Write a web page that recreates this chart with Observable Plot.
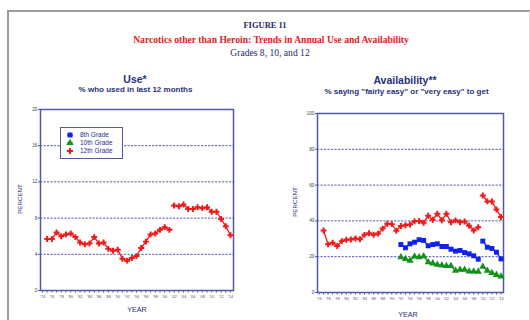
<!DOCTYPE html>
<html><head><meta charset="utf-8">
<script src="https://cdn.jsdelivr.net/npm/d3@7"></script>
<script src="https://cdn.jsdelivr.net/npm/@observablehq/plot@0.6"></script>
<style>
body{margin:0;background:#fff;}
#wrap{position:relative;width:530px;height:320px;overflow:hidden;font-family:"Liberation Sans",Arial,sans-serif;background:#fff;}
.t{position:absolute;white-space:nowrap;transform:translate(-50%,-50%);line-height:1;}
.serif{font-family:"Liberation Serif","Times New Roman",serif;}
.plot{position:absolute;}
</style></head><body><div id="wrap"></div>
<script>
// ---- data ----
const useYears = [1975,1976,1977,1978,1979,1980,1981,1982,1983,1984,1985,1986,1987,1988,1989,1990,1991,1992,1993,1994,1995,1996,1997,1998,1999,2000,2001,2002,2003,2004,2005,2006,2007,2008,2009,2010,2011,2012,2013,2014];
const use12 = [5.7,5.7,6.4,6.0,6.2,6.3,5.9,5.3,5.1,5.2, 5.9,5.2,5.3,4.6,4.4,4.5,3.5,3.3,3.6,3.8, 4.7,5.4,6.2,6.3,6.7,7.0,6.7,9.4,9.3,9.5, 9.0,9.0,9.2,9.1,9.2,8.7,8.7,7.9,7.1,6.1];
const useBreak = 2002;
const availYears12 = useYears;
const avail12 = [34.6,26.9,27.8,26.0,28.7,29.5,29.6,30.2,29.8,32.2, 33.1,32.3,32.9,35.7,38.4,38.2,34.5,37.2,37.6,38.0, 39.8,39.9,39.0,42.9,40.6,44.0,40.4,44.0,39.2,40.3, 39.2,39.7,37.3,34.6,36.4,54.2,50.9,50.8,46.4,42.2];
const availYears810 = [1992,1993,1994,1995,1996,1997,1998,1999,2000,2001,2002,2003,2004,2005,2006,2007,2008,2009,2010,2011,2012,2013,2014];
const avail8 = [26.8,25.0,27.2,28.1,29.5,29.1,26.1,26.8,27.2,25.7,25.7,24.2,23.1,23.5,22.3,21.6,20.5,18.6, 28.7,25.3,24.6,22.5,18.8];
const avail10 = [19.7,18.8,17.8,20.1,19.7,20.3,16.9,16.3,15.6,15.2,14.8,14.8,12.2,12.8,12.8,11.8,11.8,11.6, 14.4,12.2,10.9,9.9,9.0];
const availBreak = 2010;
const grades = ["8th Grade","10th Grade","12th Grade"];
const axisYears = [1974,1975,1976,1977,1978,1979,1980,1981,1982,1983,1984,1985,1986,1987,1988,1989,1990,1991,1992,1993,1994,1995,1996,1997,1998,1999,2000,2001,2002,2003,2004,2005,2006,2007,2008,2009,2010,2011,2012,2013,2014];
const labelYears = [1974,1976,1978,1980,1982,1984,1986,1988,1990,1992,1994,1996,1998,2000,2002,2004,2006,2008,2010,2012,2014];
const useTicks = [0,4,8,12,16,20];
const availTicks = [0,20,40,60,80,100];

// ---- styles ----
const NAVY = "#27307a";
const FRAME = "#5257a6";
const RED = "#f01818", BLUE = "#1022f2", GREEN = "#14921c";
const styleOf = {"8th Grade":{c:BLUE,s:"square",r:2.8},"10th Grade":{c:GREEN,s:"triangle",r:2.7},"12th Grade":{c:RED,s:"cross",r:2.5}};

const wrap = document.getElementById("wrap");
function addText(html, x, y, css, cls="t"){
  const d = document.createElement("div");
  d.className = cls; d.innerHTML = html;
  d.style.left = x+"px"; d.style.top = y+"px";
  Object.assign(d.style, css);
  wrap.appendChild(d); return d;
}
// outer border
const b = document.createElement("div");
Object.assign(b.style,{position:"absolute",left:"7px",top:"10px",width:"520px",height:"330px",borderLeft:"2px solid #9c9c9c",borderTop:"2px solid #9c9c9c",borderRight:"1px solid #dcdcdc"});
wrap.appendChild(b);

addText("FIGURE 11",265,25,{fontSize:"8.5px",fontWeight:"bold",color:"#1f2a6b"},"t serif");
addText("Narcotics other than Heroin: Trends in Annual Use and Availability",271,40,{fontSize:"9.6px",fontWeight:"bold",color:"#e3201c"},"t serif");
addText("Grades 8, 10, and 12",270,53,{fontSize:"9.6px",color:"#1f2a6b"},"t serif");

addText("Use*",135,79,{fontSize:"10.5px",fontWeight:"bold",color:NAVY});
addText("% who used in last 12 months",135.5,90,{fontSize:"8px",fontWeight:"bold",color:NAVY});
addText("Availability**",405,80,{fontSize:"10.5px",fontWeight:"bold",color:NAVY});
addText("% saying \"fairly easy\" or \"very easy\" to get",406.5,92,{fontSize:"8px",fontWeight:"bold",color:NAVY});

addText("PERCENT",20,199,{fontSize:"6.2px",color:NAVY,transform:"translate(-50%,-50%) rotate(-90deg)"});
addText("PERCENT",295,202,{fontSize:"6.2px",color:NAVY,transform:"translate(-50%,-50%) rotate(-90deg)"});
addText("YEAR",137,310,{fontSize:"7.2px",color:NAVY});
addText("YEAR",408,315,{fontSize:"7.2px",color:NAVY});

function rows(years, vals, grade, brk){
  return years.map((y,i)=>({year:y, v:vals[i], grade, seg: y>=brk ? 1 : 0}));
}

function panel({series, yDomain, yTicks, left, top, width, height, ml, mr, mt, mb, insetL, insetR}){
  const marks = [
    Plot.gridY(yTicks.slice(1,-1), {stroke:FRAME, strokeOpacity:1, strokeWidth:1, strokeDasharray:"2.2,1.3"}),
    Plot.frame({stroke:FRAME, strokeWidth:1.5}),
    Plot.axisY(yTicks, {tickSize:2, tickPadding:1, fontSize:4.8, stroke:FRAME, fill:"#444", label:null}),
    Plot.axisX(axisYears, {tickSize:2.5, tickFormat:()=>"", stroke:FRAME, strokeWidth:1, label:null}),
    Plot.axisX(labelYears, {tickSize:0, tickPadding:5, fontSize:4, fill:"#555", tickFormat:d=>"'"+String(d).slice(2), label:null})
  ];
  for (const s of series){
    const st = styleOf[s[0].grade];
    marks.push(Plot.line(s, {x:"year", y:"v", z:"seg", stroke:st.c, strokeWidth:1.3}));
    marks.push(Plot.dot(s, {x:"year", y:"v", symbol:()=>st.s, fill:st.c, stroke:"none", r:st.r}));
  }
  const svg = Plot.plot({
    width, height, marginLeft:ml, marginRight:mr, marginTop:mt, marginBottom:mb,
    x:{domain:[1974,2014], insetLeft:insetL, insetRight:insetR},
    y:{domain:yDomain},
    symbol:{type:"identity"},
    style:{fontFamily:"Liberation Sans, Arial, sans-serif", color:NAVY, background:"transparent", overflow:"visible"},
    marks
  });
  svg.classList.add("plot");
  svg.style.left = left+"px"; svg.style.top = top+"px";
  wrap.appendChild(svg);
}

panel({series:[rows(useYears,use12,"12th Grade",useBreak)], yDomain:[0,20], yTicks:useTicks,
  left:0, top:100, width:265, height:220, ml:40, mr:32, mt:9, mb:30, insetL:2, insetR:3});
panel({series:[rows(availYears12,avail12,"12th Grade",availBreak), rows(availYears810,avail8,"8th Grade",availBreak), rows(availYears810,avail10,"10th Grade",availBreak)],
  yDomain:[0,100], yTicks:availTicks,
  left:265, top:100, width:265, height:220, ml:52, mr:27, mt:13, mb:28, insetL:1.5, insetR:2.5});

// legend
const lg = document.createElement("div");
Object.assign(lg.style,{position:"absolute",left:"60px",top:"127px",width:"61px",height:"30px",border:"1px solid "+FRAME,background:"#fff"});
wrap.appendChild(lg);
grades.forEach((g,i)=>{
  const st = styleOf[g];
  const sym = {square:d3.symbolSquare,triangle:d3.symbolTriangle,cross:d3.symbolCross}[st.s];
  const y = 7 + i*8;
  const row = document.createElement("div");
  Object.assign(row.style,{position:"absolute",left:"4px",top:(y-4)+"px",height:"8px",display:"flex",alignItems:"center"});
  row.innerHTML = `<svg width="10" height="8" style="display:block"><line x1="2" x2="8" y1="4" y2="4" stroke="${st.c}" stroke-width="1"/><path transform="translate(5,4)" d="${d3.symbol(sym, Math.PI*st.r*st.r)()}" fill="${st.c}"/></svg><span style="font-size:6.5px;color:${NAVY};margin-left:5px;line-height:1">${g}</span>`;
  lg.appendChild(row);
});
</script></body></html>
